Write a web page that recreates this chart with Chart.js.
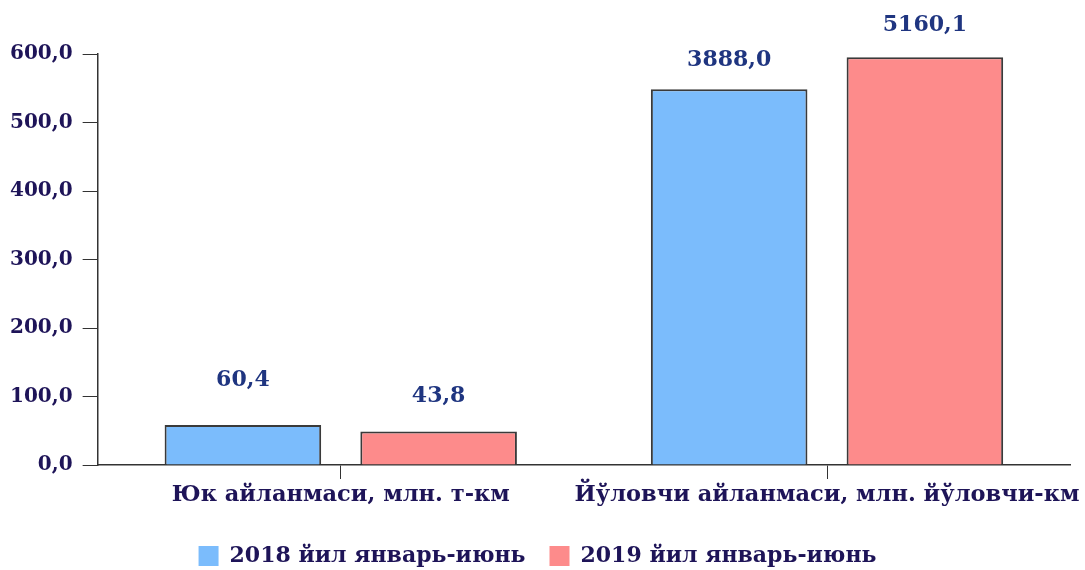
<!DOCTYPE html>
<html>
<head>
<meta charset="utf-8">
<script src="https://cdn.jsdelivr.net/npm/chart.js@4"></script>
<style>
  html, body { margin: 0; padding: 0; background: #fff; }
  #wrap { width: 1085px; height: 570px; }
</style>
</head>
<body>
<div id="wrap"><canvas id="chart" width="1085" height="570"></canvas></div>
<script>
// categories and series
const categories = ['Юк айланмаси, млн. т-км', 'Йўловчи айланмаси, млн. йўловчи-км'];
const seriesNames = ['2018 йил январь-июнь', '2019 йил январь-июнь'];
// bar heights as drawn on the 0-600 axis
const heights2018 = [58.5, 548.7];
const heights2019 = [49.0, 595.2];
// printed values above the bars
const labels2018 = ['60,4', '3888,0'];
const labels2019 = ['43,8', '5160,1'];

const navy = '#1e1458';
const valueBlue = '#1f3580';
const serif = '"DejaVu Serif", "Liberation Serif", serif';

// how far above each bar top its value sits (per series, per category)
const labelLift = [[45, 29], [35, 32]];

const valueLabels = {
    id: 'valueLabels',
    afterDatasetsDraw(chart) {
        const ctx = chart.ctx;
        const texts = [labels2018, labels2019];
        ctx.save();
        ctx.font = 'bold 22px ' + serif;
        ctx.fillStyle = valueBlue;
        ctx.textAlign = 'center';
        ctx.textBaseline = 'middle';
        chart.data.datasets.forEach((ds, i) => {
            chart.getDatasetMeta(i).data.forEach((bar, j) => {
                ctx.fillText(texts[i][j], bar.x, bar.y - labelLift[i][j]);
            });
        });
        ctx.restore();
    }
};

// legend sits a bit closer to the bottom edge than chart.js puts it
const tightLegend = {
    id: 'tightLegend',
    beforeLayout(chart) {
        const lg = chart.legend;
        if (lg && !lg._tight) {
            const fit = lg.fit;
            lg.fit = function () {
                fit.call(this);
                this.height -= 7;
            };
            lg._tight = true;
        }
    }
};

new Chart(document.getElementById('chart'), {
    type: 'bar',
    data: {
        labels: categories,
        datasets: [
            {
                label: seriesNames[0],
                data: heights2018,
                backgroundColor: '#7bbcfc',
                borderColor: '#3a3a3a',
                borderWidth: 2
            },
            {
                label: seriesNames[1],
                data: heights2019,
                backgroundColor: '#fd8b8b',
                borderColor: '#3a3a3a',
                borderWidth: 2
            }
        ]
    },
    options: {
        responsive: false,
        animation: false,
        devicePixelRatio: 1,
        categoryPercentage: 0.805,
        barPercentage: 0.8,
        layout: { padding: { top: 54, right: 10, left: 0, bottom: 0 } },
        plugins: {
            legend: {
                position: 'bottom',
                labels: {
                    boxWidth: 20,
                    boxHeight: 20,
                    padding: 24,
                    color: navy,
                    font: { family: serif, size: 22, weight: 'bold' },
                    generateLabels(chart) {
                        return chart.data.datasets.map((ds, i) => ({
                            text: ds.label,
                            fillStyle: ds.backgroundColor,
                            strokeStyle: ds.backgroundColor,
                            lineWidth: 0,
                            fontColor: navy,
                            datasetIndex: i
                        }));
                    }
                }
            },
            tooltip: { enabled: false }
        },
        scales: {
            x: {
                grid: {
                    offset: false,
                    drawOnChartArea: false,
                    drawTicks: true,
                    tickLength: 14,
                    color: '#333'
                },
                border: { color: '#333', width: 1.5 },
                ticks: {
                    color: navy,
                    padding: 3,
                    maxRotation: 0,
                    minRotation: 0,
                    autoSkip: false,
                    font: { family: serif, size: 22.5, weight: 'bold' }
                },
                afterFit(scale) { scale.height += 9; }
            },
            y: {
                min: 0,
                max: 600,
                grid: {
                    drawOnChartArea: false,
                    tickLength: 15,
                    color: '#333'
                },
                border: { color: '#333', width: 1.5 },
                ticks: {
                    stepSize: 100,
                    color: navy,
                    padding: 10,
                    font: { family: serif, size: 20, weight: 'bold' },
                    callback: v => v.toFixed(1).replace('.', ',')
                }
            }
        }
    },
    plugins: [valueLabels, tightLegend]
});
</script>
</body>
</html>
